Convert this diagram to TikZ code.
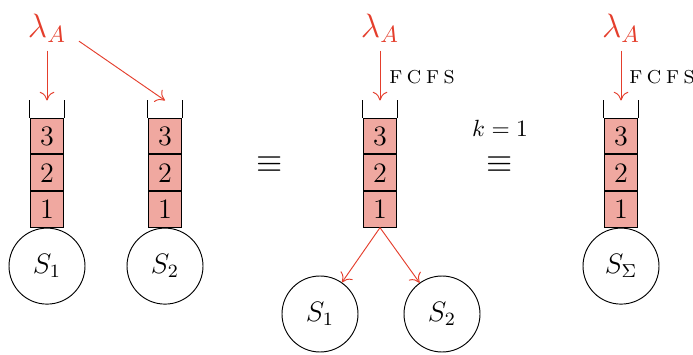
\documentclass[tikz,border=0pt]{standalone}
\usepackage{fontspec}
\usepackage{xcolor}
\usetikzlibrary{positioning,arrows.meta}
\definecolor{jobfill}{RGB}{240,168,160}
\definecolor{arrivalred}{RGB}{228,62,44}
\newcommand{\fcfslabel}{F\kern2pt C\kern2pt F\kern2pt S}
\tikzset{
    qcell/.style={draw, fill=jobfill, minimum width=0.5cm, minimum height=0.535cm, inner sep=0pt, font=\large},
    qwall/.style={draw, thin},
    server/.style={draw, circle, minimum size=1.14cm, inner sep=0pt, font=\large},
    arrival/.style={text=arrivalred, font=\Large},
    flow/.style={draw=arrivalred, -{To[length=1.3mm, width=2.2mm]}},
    policy/.style={inner sep=0pt},
    equiv/.style={font=\Large, inner sep=0pt}
}
\begin{document}
\begin{tikzpicture}
    \useasboundingbox (0,0) rectangle (10.395,-5.31);

    % three-slot queues, slot 1 at the bottom
    \foreach \q/\x in {qa/0.705, qb/2.475, qc/5.7, qd/9.315} {
        \node[qcell] (\q1) at (\x,-3.14) {1};
        \node[qcell, above=0pt of \q1] (\q2) {2};
        \node[qcell, above=0pt of \q2] (\q3) {3};
        \draw[qwall] (\q3.north west) -- ++(0,0.26);
        \draw[qwall] (\q3.north east) -- ++(0,0.26);
        \coordinate (\q-in) at ([yshift=0.26cm]\q3.north);
    }

    % servers
    \node[server, below=0pt of qa1] (sa) {$S_1$};
    \node[server, below=0pt of qb1] (sb) {$S_2$};
    \node[server] (sc) at (4.8,-4.71) {$S_1$};
    \node[server] (sd) at (6.63,-4.71) {$S_2$};
    \node[server, below=0pt of qd1] (ssum) {$S_\Sigma$};

    % arrival streams
    \node[arrival] (lama) at (0.705,-0.42) {$\lambda_A$};
    \node[arrival] (lamc) at (5.7,-0.42) {$\lambda_A$};
    \node[arrival] (lamd) at (9.315,-0.42) {$\lambda_A$};

    \draw[flow] (lama) -- (qa-in);
    \draw[flow] ([shift={(2pt,4pt)}]lama.south east) -- (qb-in);
    \draw[flow] (lamc) -- (qc-in);
    \draw[flow] (lamd) -- (qd-in);
    \draw[flow] (qc1.south) -- (sc);
    \draw[flow] (qc1.south) -- (sd);

    % labels
    \node[policy, font=\footnotesize] (fcfsc) at (6.33,-1.155) {\fcfslabel};
    \node[policy, font=\footnotesize] (fcfsd) at (9.93,-1.155) {\fcfslabel};
    \node[equiv] (eqa) at (4.05,-2.475) {$\equiv$};
    \node[equiv] (eqb) at (7.5,-2.475) {$\equiv$};
    \node[policy] (kone) at (7.5,-1.92) {$k = 1$};
\end{tikzpicture}
\end{document}
